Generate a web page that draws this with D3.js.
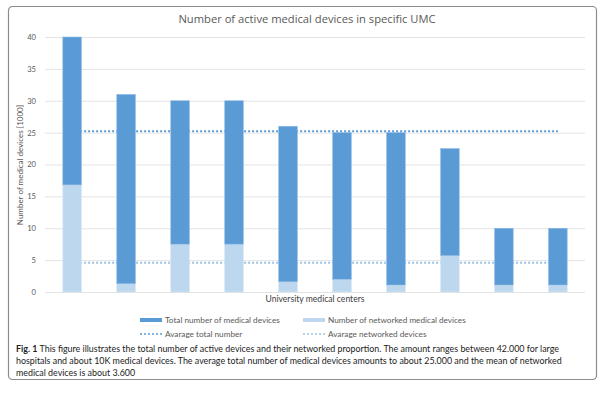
<!DOCTYPE html>
<html>
<head>
<meta charset="utf-8">
<script src="https://cdn.jsdelivr.net/npm/d3@7"></script>
<style>
  body { margin: 0; background: #fff; }
  svg text { font-family: Lato, "Open Sans", sans-serif; }
</style>
</head>
<body>
<svg id="chart" width="603" height="396"></svg>
<script>
// data, in thousands
var centers = ['UMC 1','UMC 2','UMC 3','UMC 4','UMC 5','UMC 6','UMC 7','UMC 8','UMC 9','UMC 10'];
var totalDevices = [40, 31, 30, 30, 26, 25, 25, 22.5, 10, 10];
var networkedDevices = [16.8, 1.3, 7.5, 7.5, 1.6, 2, 1.1, 5.7, 1.1, 1.1];
var avgTotal = [25.2];
var avgNetworked = [4.6];
var yTicks = [0, 5, 10, 15, 20, 25, 30, 35, 40];
var legendItems = ['Total number of medical devices', 'Number of networked medical devices',
                   'Avarage total number', 'Avarage networked devices'];
var captionLines = [
  'This figure illustrates the total number of active devices and their networked proportion. The amount ranges between 42.000 for large',
  'hospitals and about 10K medical devices. The average total number of medical devices amounts to about 25.000 and the mean of networked',
  'medical devices is about 3.600'
];

var dark = '#5b9bd5', light = '#bdd7ee', lightLine = '#9dc3e6';
var svg = d3.select('#chart');

// outer frame
svg.append('rect').attr('x', 8.5).attr('y', 6.5).attr('width', 588).attr('height', 373)
  .attr('rx', 4).attr('fill', '#fff').attr('stroke', '#8c8c8c').attr('stroke-width', 1.2);

var x = d3.scaleBand().domain(centers).range([45, 585]).paddingInner(0.655).paddingOuter(0.33);
var y = d3.scaleLinear().domain([0, 40]).range([292, 37]);

svg.append('text').attr('x', 307).attr('y', 23).attr('text-anchor', 'middle')
  .attr('font-size', 11.2).attr('fill', '#595959')
  .style('font-family', '"Open Sans", sans-serif')
  .text('Number of active medical devices in specific UMC');

// grid + y axis
var yAxis = d3.axisLeft(y).tickValues(yTicks).tickSize(-540).tickPadding(9);
var gy = svg.append('g').attr('transform', 'translate(45,0)').call(yAxis);
gy.select('.domain').remove();
gy.selectAll('.tick line').attr('stroke', '#e3e3e3');
gy.selectAll('.tick text').attr('fill', '#595959').attr('font-size', 7.6)
  .style('font-family', 'Lato, sans-serif');

svg.append('text').attr('transform', 'translate(23,165) rotate(-90)')
  .attr('text-anchor', 'middle').attr('font-size', 8).attr('fill', '#595959')
  .text('Number of medical devices [1000]');

svg.append('text').attr('x', 315).attr('y', 302).attr('text-anchor', 'middle')
  .attr('font-size', 8.6).attr('fill', '#404040')
  .text('University medical centers');

// average lines, behind bars
var cx = function(c) { return x(c) + x.bandwidth() / 2; };
var avgLine = function(val, col) {
  svg.append('line')
    .attr('x1', cx(centers[0])).attr('x2', cx(centers[centers.length - 1]))
    .attr('y1', y(val)).attr('y2', y(val))
    .attr('stroke', col).attr('stroke-width', 2).attr('stroke-dasharray', '2,2');
};
avgLine(avgTotal[0], dark);
avgLine(avgNetworked[0], lightLine);

var rows = centers.map(function(c, i) { return { c: c, t: totalDevices[i], n: networkedDevices[i] }; });
svg.append('g').selectAll('rect').data(rows).join('rect')
  .attr('x', function(d) { return x(d.c); }).attr('width', x.bandwidth())
  .attr('y', function(d) { return y(d.n); }).attr('height', function(d) { return y(0) - y(d.n); })
  .attr('fill', light).attr('stroke', '#d6e6f5').attr('stroke-width', 0.6);
svg.append('g').selectAll('rect').data(rows).join('rect')
  .attr('x', function(d) { return x(d.c); }).attr('width', x.bandwidth())
  .attr('y', function(d) { return y(d.t); }).attr('height', function(d) { return y(d.n) - y(d.t); })
  .attr('fill', dark).attr('stroke', '#8fbce6').attr('stroke-width', 0.6);

// legend
var lg = [
  { x: 140, y: 320, t: legendItems[0], col: dark, dash: null },
  { x: 303, y: 320, t: legendItems[1], col: light, dash: null },
  { x: 140, y: 334, t: legendItems[2], col: dark, dash: '2,2' },
  { x: 303, y: 334, t: legendItems[3], col: lightLine, dash: '2,2' }
];
lg.forEach(function(d) {
  svg.append('line').attr('x1', d.x).attr('x2', d.x + 22).attr('y1', d.y).attr('y2', d.y)
    .attr('stroke', d.col).attr('stroke-width', d.dash ? 1.6 : 4)
    .attr('stroke-dasharray', d.dash);
  svg.append('text').attr('x', d.x + 25).attr('y', d.y + 3).attr('font-size', 8.2)
    .attr('fill', '#595959').text(d.t);
});

// caption
var cap = svg.append('g').style('font-family', '"Open Sans", sans-serif').attr('font-size', 8.9).attr('fill', '#222');
captionLines.forEach(function(line, i) {
  var t = cap.append('text').attr('x', 16).attr('y', 352 + i * 12);
  if (i === 0) t.append('tspan').attr('font-weight', 'bold').text('Fig. 1 ');
  t.append('tspan').text(line);
});
</script>
</body>
</html>
